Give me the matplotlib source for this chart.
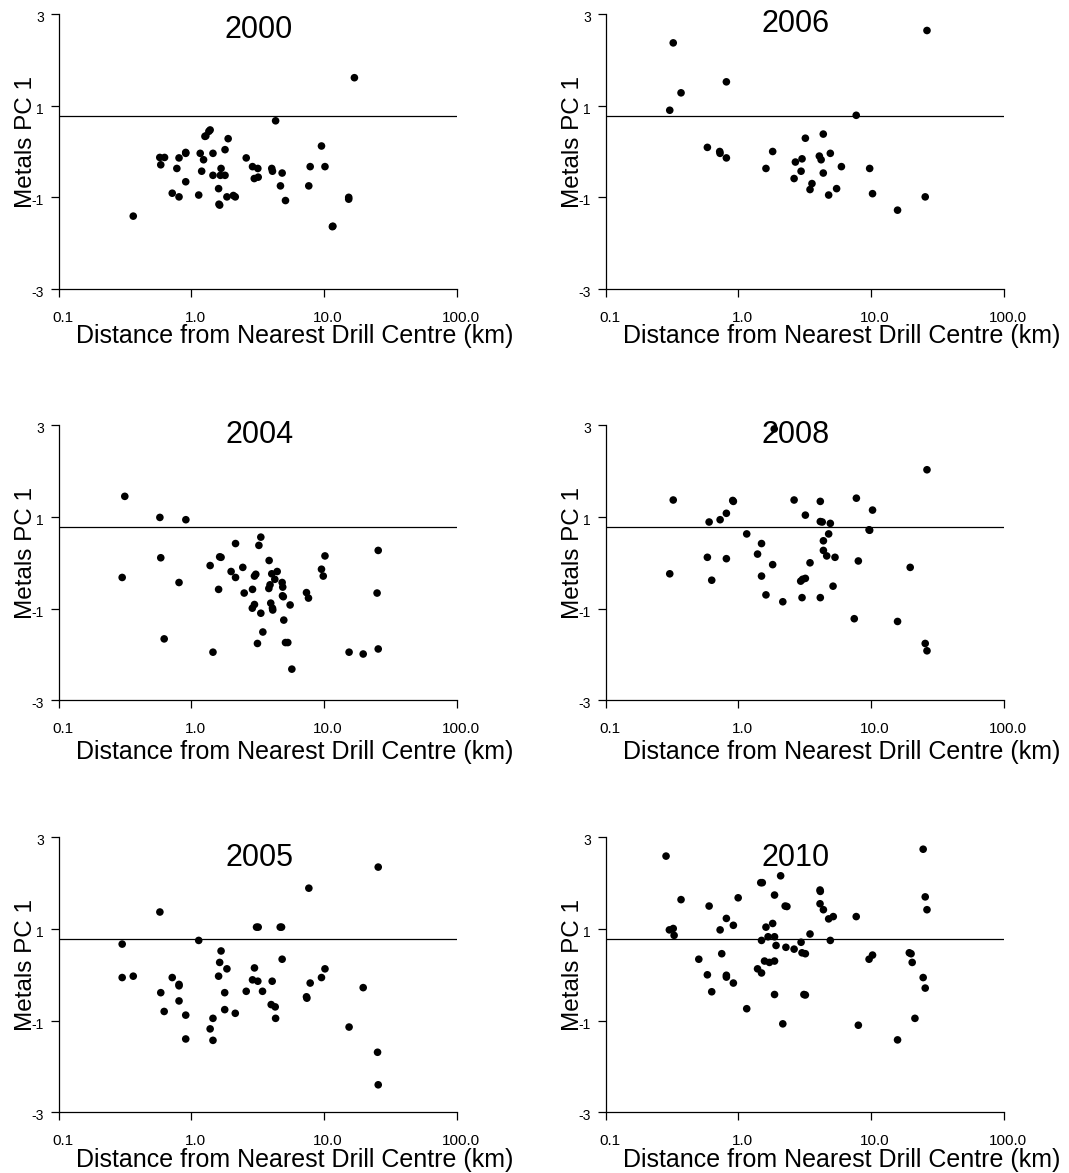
import matplotlib
matplotlib.use("Agg")
import matplotlib.pyplot as plt
import matplotlib.transforms as mtransforms

plt.rcParams['font.family'] = ['Liberation Sans', 'DejaVu Sans']

# Metals PC1 threshold drawn as a horizontal reference line
threshold = 0.78

x_ticks = [0.1, 1.0, 10.0, 100.0]
x_tick_labels = ["0.1", "1.0", "10.0", "100.0"]
y_ticks = [-3, -1, 1, 3]
y_tick_labels = ["-3", "-1", "1", "3"]

# ---- survey data: distance to nearest drill centre (km) and Metals PC1 score ----
dist_2000 = [17.0, 4.33, 1.39, 1.36, 1.29, 1.27, 1.90, 9.6, 1.80, 0.91,
             0.91, 1.17, 1.46, 0.58, 0.63, 0.81, 1.24, 2.60, 0.59, 0.78,
             1.68, 1.20, 2.90, 3.18, 4.05, 4.10, 4.85, 7.89, 10.2, 1.46,
             1.66, 1.80, 2.99, 3.20, 0.91, 4.71, 7.70, 1.61, 0.72, 1.14,
             0.81, 1.86, 2.08, 2.15, 1.62, 1.64, 5.14, 15.4, 15.4, 0.366,
             11.7, 11.6]
pc1_2000 = [1.61, 0.67, 0.47, 0.44, 0.34, 0.33, 0.28, 0.12, 0.04, -0.02,
            -0.04, -0.04, -0.04, -0.13, -0.13, -0.14, -0.18, -0.14, -0.29, -0.37,
            -0.37, -0.43, -0.33, -0.37, -0.37, -0.43, -0.47, -0.33, -0.33, -0.52,
            -0.52, -0.52, -0.59, -0.56, -0.66, -0.75, -0.75, -0.81, -0.91, -0.95,
            -0.99, -0.99, -0.96, -0.99, -1.15, -1.17, -1.07, -1.00, -1.04, -1.41,
            -1.63, -1.64]

dist_2006 = [26.5, 0.324, 0.815, 0.371, 0.305, 7.76, 4.38, 3.21, 0.586, 0.726,
             0.73, 0.815, 1.82, 4.95, 4.09, 4.22, 3.03, 2.70, 1.62, 6.0,
             9.8, 2.98, 4.38, 2.64, 3.6, 3.48, 5.52, 4.81, 10.3, 25.7,
             15.9]
pc1_2006 = [2.64, 2.37, 1.52, 1.28, 0.90, 0.79, 0.38, 0.29, 0.09, 0.0,
            -0.04, -0.14, 0.0, -0.04, -0.10, -0.18, -0.16, -0.23, -0.37, -0.33,
            -0.37, -0.43, -0.47, -0.59, -0.70, -0.83, -0.81, -0.95, -0.92, -0.99,
            -1.28]

dist_2004 = [0.316, 0.581, 0.912, 3.35, 2.16, 3.24, 25.7, 10.2, 0.59, 1.64,
             1.68, 3.87, 1.39, 2.45, 9.6, 2.00, 4.45, 4.05, 9.9, 0.302,
             2.16, 3.07, 3.00, 4.27, 4.85, 0.81, 4.9, 3.85, 3.93, 1.61,
             2.90, 2.51, 7.40, 7.66, 4.88, 4.95, 25.2, 3.98, 3.00, 5.57,
             4.10, 2.89, 4.12, 3.35, 4.99, 3.47, 0.626, 3.16, 5.14, 5.35,
             1.46, 15.5, 19.8, 25.7, 5.74]
pc1_2004 = [1.45, 0.99, 0.94, 0.56, 0.42, 0.38, 0.27, 0.15, 0.11, 0.13,
            0.12, 0.05, -0.06, -0.10, -0.14, -0.19, -0.19, -0.24, -0.29, -0.32,
            -0.32, -0.25, -0.29, -0.36, -0.43, -0.43, -0.53, -0.56, -0.48, -0.58,
            -0.58, -0.66, -0.65, -0.77, -0.72, -0.74, -0.66, -0.88, -0.91, -0.92,
            -0.99, -0.99, -1.03, -1.10, -1.25, -1.51, -1.66, -1.76, -1.74, -1.74,
            -1.95, -1.95, -1.99, -1.88, -2.32]

dist_2008 = [1.87, 26.5, 0.324, 0.92, 0.91, 2.64, 4.16, 7.78, 10.3, 0.815,
             3.21, 0.731, 0.604, 4.16, 4.30, 4.95, 9.8, 9.7, 1.16, 4.81,
             4.39, 1.50, 4.39, 1.40, 4.65, 5.37, 0.586, 0.815, 8.05, 3.48,
             1.82, 19.8, 0.305, 1.50, 3.21, 2.96, 3.06, 0.632, 5.19, 1.62,
             3.03, 4.16, 2.17, 7.5, 15.9, 25.7, 26.5]
pc1_2008 = [2.92, 2.03, 1.37, 1.34, 1.36, 1.37, 1.34, 1.41, 1.15, 1.08,
            1.04, 0.94, 0.89, 0.90, 0.89, 0.86, 0.71, 0.72, 0.63, 0.63,
            0.48, 0.42, 0.27, 0.19, 0.15, 0.12, 0.12, 0.09, 0.04, 0.0,
            -0.04, -0.10, -0.24, -0.29, -0.34, -0.40, -0.36, -0.38, -0.51, -0.70,
            -0.76, -0.76, -0.85, -1.22, -1.28, -1.76, -1.92]

dist_2005 = [25.7, 7.71, 0.581, 3.11, 3.20, 4.69, 4.80, 1.14, 0.302, 1.68,
             4.85, 1.64, 3.00, 1.86, 10.2, 0.366, 0.302, 0.72, 1.61, 9.6,
             2.90, 3.18, 4.08, 7.89, 0.81, 0.81, 19.8, 2.60, 3.45, 0.59,
             1.79, 7.40, 7.45, 0.81, 4.01, 4.30, 1.79, 0.626, 2.15, 0.91,
             1.46, 4.33, 1.39, 15.5, 0.91, 1.46, 25.4, 25.7]
pc1_2005 = [2.35, 1.89, 1.37, 1.04, 1.04, 1.04, 1.04, 0.75, 0.67, 0.52,
            0.34, 0.27, 0.15, 0.13, 0.13, -0.03, -0.06, -0.06, -0.03, -0.06,
            -0.11, -0.14, -0.14, -0.18, -0.21, -0.24, -0.28, -0.36, -0.36, -0.39,
            -0.39, -0.48, -0.51, -0.57, -0.65, -0.70, -0.76, -0.80, -0.84, -0.88,
            -0.95, -0.95, -1.18, -1.14, -1.40, -1.43, -1.69, -2.40]

dist_2010 = [24.8, 0.286, 2.09, 1.52, 1.48, 4.14, 4.16, 1.88, 1.00, 25.7,
             0.371, 4.14, 0.604, 2.26, 2.33, 4.39, 26.5, 7.76, 5.21, 4.81,
             0.815, 0.92, 1.82, 1.62, 0.731, 0.303, 0.324, 0.329, 3.48, 1.68,
             1.88, 1.50, 4.95, 2.98, 1.93, 2.29, 2.64, 3.03, 3.21, 0.752,
             19.5, 20.1, 10.3, 9.7, 0.505, 1.58, 1.88, 1.72, 20.5, 1.40,
             1.50, 0.586, 0.815, 0.815, 24.8, 0.92, 25.7, 0.632, 1.88, 3.13,
             3.21, 1.16, 21.5, 2.17, 8.05, 15.9]
pc1_2010 = [2.74, 2.59, 2.16, 2.01, 2.01, 1.85, 1.82, 1.74, 1.68, 1.70,
            1.64, 1.55, 1.50, 1.50, 1.49, 1.42, 1.42, 1.27, 1.27, 1.22,
            1.23, 1.08, 1.12, 1.04, 0.98, 0.98, 1.01, 0.86, 0.89, 0.83,
            0.83, 0.75, 0.75, 0.71, 0.64, 0.60, 0.56, 0.48, 0.46, 0.46,
            0.48, 0.46, 0.43, 0.34, 0.34, 0.30, 0.30, 0.27, 0.27, 0.13,
            0.04, 0.00, -0.01, -0.05, -0.06, -0.18, -0.29, -0.37, -0.43, -0.43,
            -0.44, -0.74, -0.95, -1.07, -1.10, -1.42]

years = ["2000", "2006", "2004", "2008", "2005", "2010"]
distances = [dist_2000, dist_2006, dist_2004, dist_2008, dist_2005, dist_2010]
scores = [pc1_2000, pc1_2006, pc1_2004, pc1_2008, pc1_2005, pc1_2010]

# ---- figure layout (pixels) ----
W, H = 1069, 1173
fig = plt.figure(figsize=(W / 100, H / 100), dpi=100)
col_left = [58.5, 605.5]
row_top = [14.0, 425.3, 837.3]
ax_w, ax_h = 398.0, 275.0

# per-panel text placement in axes fractions
title_x = [0.504, 0.477]
title_y = [[0.912, 0.933], [0.935, 0.936], [0.897, 0.897]]
xlabel_y = [-0.196, -0.213, -0.198]

px = 1 / 100.0
for i, (year, xd, yd) in enumerate(zip(years, distances, scores)):
    r, c = divmod(i, 2)
    left = col_left[c]
    top = row_top[r]
    ax = fig.add_axes([left / W, 1 - (top + ax_h) / H, ax_w / W, ax_h / H])

    ax.set_xscale("log")
    ax.set_xlim(0.1, 100)
    ax.set_ylim(-3, 3)

    ax.axhline(threshold, color="black", lw=0.9, zorder=2)
    ax.scatter(xd, yd, s=30, color="black", edgecolors="none", zorder=3,
               clip_on=False)

    for side in ("top", "right"):
        ax.spines[side].set_visible(False)
    for side in ("left", "bottom"):
        ax.spines[side].set_linewidth(0.9)

    ax.set_xticks(x_ticks)
    ax.set_xticklabels(x_tick_labels)
    ax.xaxis.set_minor_locator(matplotlib.ticker.NullLocator())
    ax.set_yticks(y_ticks)
    ax.set_yticklabels(y_tick_labels)
    ax.tick_params(axis="x", direction="out", length=6, width=0.9,
                   labelsize=11, pad=9.5)
    ax.tick_params(axis="y", direction="out", length=6, width=0.9,
                   labelsize=10, pad=4.5)

    xoff = mtransforms.ScaledTranslation(4 * px, 0, fig.dpi_scale_trans)
    for lab in ax.get_xticklabels():
        lab.set_transform(lab.get_transform() + xoff)
    yoff = mtransforms.ScaledTranslation(0, -2.5 * px, fig.dpi_scale_trans)
    for lab in ax.get_yticklabels():
        lab.set_transform(lab.get_transform() + yoff)

    ax.text(title_x[c], title_y[r][c], year, transform=ax.transAxes,
            ha="center", va="baseline", fontsize=22)
    ax.text(-0.066, 0.535, "Metals PC 1", transform=ax.transAxes,
            rotation=90, rotation_mode="anchor", ha="center", va="baseline",
            fontsize=17.5)
    ax.text(1.1425, xlabel_y[r], "Distance from Nearest Drill Centre (km)",
            transform=ax.transAxes, ha="right", va="baseline", fontsize=18)

fig.savefig("out.png", dpi=100)
